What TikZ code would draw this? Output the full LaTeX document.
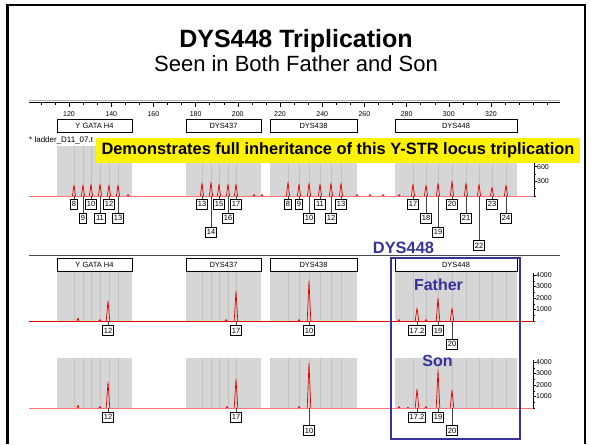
\documentclass[tikz,border=0pt]{standalone}
\usepackage{fontspec}
\setmainfont{Liberation Sans}
\definecolor{azul}{RGB}{51,51,153}
\definecolor{cinza}{RGB}{214,214,214}
\definecolor{cinzabin}{RGB}{194,194,194}
\newcommand{\tam}[1]{\fontsize{#1}{#1}\selectfont}

\begin{document}
\begin{tikzpicture}[x=1pt, y=-1pt,
  alelo/.style={draw, fill=white, line width=0.5pt, inner xsep=1.4pt, inner ysep=0pt,
    minimum height=10pt, minimum width=7pt, font=\tam{7.5}},
  loco/.style={draw, fill=white, line width=0.6pt, inner sep=0pt, minimum height=13pt, font=\tam{7.5}},
  guia/.style={black!75, line width=0.4pt},
  pico/.style={red!90!black, line width=0.7pt, line join=round},
  escala/.style={font=\tam{7}, inner sep=1pt, anchor=west}]

  \useasboundingbox (0,0) rectangle (591,444);
  % moldura
  \draw[line width=2.5pt] (7.5,444) -- (7.5,5) -- (585,5) -- (585,444);

  % titulos
  \node[anchor=base, font=\bfseries\tam{25}] (titulo) at (296,48) {DYS448 Triplication};
  \node[anchor=base, font=\tam{22}] (subtitulo) at (296,71) {Seen in Both Father and Son};

  % faixas cinzentas e linhas dos bins (escada, pai, filho)
  \foreach \xtop in {146,271,358} {
    \foreach \xa/\xb in {57/132,186/261,270/357,395/517}
      \fill[cinza] (\xa,\xtop) rectangle (\xb,\xtop+50);
    \foreach \xbin in {74,83,91,100,109,118,202,211,219,228,236,288,299,309,320,331,341,
                       413,426,438,452,466,479,492,506}
      \draw[cinzabin, line width=1pt] (\xbin,\xtop) -- (\xbin,\xtop+50);
  }

  % linhas de base
  \draw[red!55, line width=0.8pt] (29,196) -- (534,196);
  \draw[red!90!black, line width=0.8pt] (29,321) -- (533,321);
  \draw[red!55, line width=0.8pt] (29,408) -- (533,408);

  % regua de tamanhos
  \draw[black!30, line width=1.4pt] (29,100.3) -- (560,100.3);
  \draw[line width=0.6pt] (29,102) -- (560,102);
  \foreach \xk in {-2,...,34}
    \draw[line width=0.45pt] ({69+\xk*14.067},102) -- ++(0,3);
  \foreach \xb in {120,140,...,320} {
    \pgfmathsetmacro\xx{69+(\xb-120)*2.11}
    \draw[line width=0.5pt] (\xx,102) -- (\xx,106.5);
    \node[font=\tam{7}, inner sep=0pt] (r\xb) at (\xx,114) {\xb};
  }

  % locos
  \foreach \xa/\xb/\xnome in {57/132/Y GATA H4, 186/261/DYS437, 270/357/DYS438, 395/517/DYS448} {
    \node[loco, minimum width=\xb-\xa] (loc\xa) at ({(\xa+\xb)/2},125.5) {\xnome};
    \node[loco, minimum width=\xb-\xa] (locf\xa) at ({(\xa+\xb)/2},264.5) {\xnome};
  }
  \draw[black!70, line width=0.8pt] (29,255) -- (560,255);

  % escada alelica: (posicao, alelo, fila da etiqueta, altura)
  \foreach \xp in {128,254,262,357,370,383,399}
    \draw[pico] (\xp-1,196) -- (\xp,194.5) -- (\xp+1,196);
  \foreach \xp/\xal/\xrow/\xh in {
    74/8/1/11, 83/9/2/11, 91/10/1/12, 100/11/2/12, 109/12/1/11, 118/13/2/11,
    202/13/1/13, 211/14/3/14, 219/15/1/12, 228/16/2/12, 236/17/1/12,
    288/8/1/14, 299/9/1/12, 309/10/2/13, 320/11/1/12, 331/12/2/13, 341/13/1/13,
    413/17/1/12, 426/18/2/11, 438/19/3/13, 452/20/1/15, 466/21/2/13, 479/22/4/12,
    492/23/1/9, 506/24/2/11}
  {
    \draw[pico] (\xp-1.6,196) -- (\xp,196-\xh) -- (\xp+1.6,196);
    \coordinate (p\xp) at (\xp,196);
    \node[alelo] (a\xp) at (\xp,{190.5+13.8*\xrow}) {\xal};
    \draw[guia] (p\xp) -- (a\xp);
  }

  % pai
  \foreach \xp/\xh in {78/3,100/1.5,226/1.5,299/1.5,399/1.5,426/1.5}
    \draw[pico] (\xp-1,321) -- (\xp,321-\xh) -- (\xp+1,321);
  \foreach \xp/\xal/\xrow/\xh in {108/12/1/20, 236/17/1/30, 309/10/1/40,
                                  417/17.2/1/13, 438/19/1/23, 452/20/2/13}
  {
    \draw[pico] (\xp-1.8,321) -- (\xp,321-\xh) -- (\xp+1.8,321);
    \coordinate (pf\xp) at (\xp,321);
    \node[alelo] (af\xp) at (\xp,{317+13.5*\xrow}) {\xal};
    \draw[guia] (pf\xp) -- (af\xp);
  }

  % filho
  \foreach \xp/\xh in {78/3,100/1.5,227/1.5,299/1.5,399/1.5,408/1,426/1.5}
    \draw[pico] (\xp-1,408) -- (\xp,408-\xh) -- (\xp+1,408);
  \foreach \xp/\xal/\xrow/\xh in {108/12/1/26, 236/17/1/29, 309/10/2/45,
                                  417/17.2/1/19, 438/19/1/38, 452/20/2/18}
  {
    \draw[pico] (\xp-1.8,408) -- (\xp,408-\xh) -- (\xp+1.8,408);
    \coordinate (ps\xp) at (\xp,408);
    \node[alelo] (as\xp) at (\xp,{403+13.8*\xrow}) {\xal};
    \draw[guia] (ps\xp) -- (as\xp);
  }

  % eixos de intensidade
  \draw[line width=0.5pt] (534,163) -- (534,196);
  \foreach \xv in {0,150,...,600}
    \draw[line width=0.4pt] (534,{196-\xv*0.049}) -- ++(1.5,0);
  \foreach \xv in {300,600} {
    \draw[line width=0.4pt] (534,{196-\xv*0.049}) -- ++(3,0);
    \node[escala] (el\xv) at (536,{196-\xv*0.049}) {\xv};
  }
  \foreach \xbase/\xn in {321/f,408/s} {
    \draw[line width=0.5pt] (533,\xbase-48) -- (533,\xbase);
    \foreach \xv in {0,500,...,4000}
      \draw[line width=0.4pt] (533,{\xbase-\xv*0.0115}) -- ++(1.5,0);
    \foreach \xv in {1000,2000,3000,4000} {
      \draw[line width=0.4pt] (533,{\xbase-\xv*0.0115}) -- ++(3,0);
      \node[escala] (e\xn\xv) at (535,{\xbase-\xv*0.0115}) {\xv};
    }
  }

  % ficheiro e faixa amarela
  \node[anchor=west, font=\tam{8}, inner sep=0pt] (ficheiro) at (29,140.5) {* ladder\_D11\_07.t};
  \node[fill=yellow, font=\bfseries\tam{16.4}, minimum width=484, minimum height=25, inner sep=0pt]
    (faixa) at (338,150.5) {Demonstrates full inheritance of this Y-STR locus triplication};

  % destaque do DYS448
  \node[text=azul, font=\bfseries\tam{16.4}, inner sep=0pt] (rotulo) at (403.5,247.5) {DYS448};
  \node[text=azul, font=\bfseries\tam{16}, inner sep=0pt] (pai) at (438.5,284.5) {Father};
  \node[text=azul, font=\bfseries\tam{16}, inner sep=0pt] (filho) at (437.5,361) {Son};
  \draw[azul, line width=1.8pt] (391,258) rectangle (520,439);
\end{tikzpicture}
\end{document}
